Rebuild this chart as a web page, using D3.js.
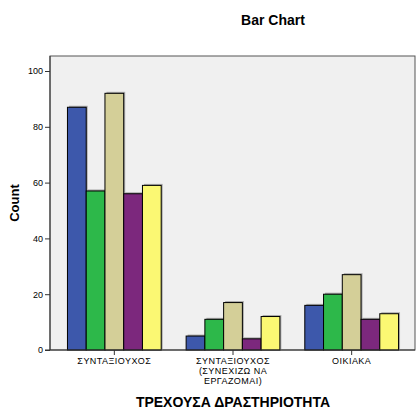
<!DOCTYPE html>
<html><head><meta charset="utf-8">
<script src="https://cdn.jsdelivr.net/npm/d3@7"></script>
<style>body{margin:0;background:#fff;} text{font-family:"Liberation Sans",Arial,sans-serif;}</style>
</head><body><svg id="c" width="416" height="410"></svg>
<script>
const categories = [["ΣΥΝΤΑΞΙΟΥΧΟΣ"], ["ΣΥΝΤΑΞΙΟΥΧΟΣ", "(ΣΥΝΕΧΙΖΩ ΝΑ", "ΕΡΓΑΖΟΜΑΙ)"], ["ΟΙΚΙΑΚΑ"]];
const seriesNames = ["s1", "s2", "s3", "s4", "s5"];
const s1 = [87, 5, 16];
const s2 = [57, 11, 20];
const s3 = [92, 17, 27];
const s4 = [56, 4, 11];
const s5 = [59, 12, 13];
const seriesValues = [s1, s2, s3, s4, s5];
const colors = ["#3d58ab", "#2db84a", "#d4cf98", "#7c287d", "#fbf873"];
const yTicks = [0, 20, 40, 60, 80, 100];

const svg = d3.select("#c");
const L = 50, R = 415, T = 56, B = 350;
const y = d3.scaleLinear().domain([0, 100]).range([B, 71]);
const catKeys = categories.map((c, i) => i);
const x0 = d3.scaleBand().domain(catKeys).range([55, 411]).paddingInner(0.21).paddingOuter(0.105);
const x1 = d3.scaleBand().domain(seriesNames).range([0, x0.bandwidth()]);

svg.append("rect").attr("x", L).attr("y", T).attr("width", R - L).attr("height", B - T).attr("fill", "#f0f0f0").attr("stroke", "#555").attr("stroke-width", 1);

const data = [];
catKeys.forEach(ci => seriesNames.forEach((s, si) => data.push({ci, s, si, v: seriesValues[si][ci]})));

// shadow
svg.append("g").selectAll("rect").data(data).join("rect")
  .attr("x", d => x0(d.ci) + x1(d.s) + 1.5).attr("y", d => y(d.v) - 1.5)
  .attr("width", x1.bandwidth()).attr("height", d => B - y(d.v) + 1.5)
  .attr("fill", "#aaa");
svg.append("g").selectAll("rect").data(data).join("rect")
  .attr("x", d => x0(d.ci) + x1(d.s)).attr("y", d => y(d.v))
  .attr("width", x1.bandwidth()).attr("height", d => B - y(d.v))
  .attr("fill", d => colors[d.si]).attr("stroke", "#000").attr("stroke-width", 1);

// y axis
const ya = svg.append("g").attr("transform", `translate(${L},0)`)
  .call(d3.axisLeft(y).tickValues(yTicks).tickSize(5).tickPadding(2));
ya.select(".domain").attr("d", `M0,${T}V${B}`).attr("stroke", "#333");
ya.selectAll("text").attr("font-size", 9).attr("fill", "#000").style("font-family", '"Liberation Sans",Arial,sans-serif');
ya.selectAll(".tick line").attr("stroke", "#333");

// x axis
const xa = svg.append("g").attr("transform", `translate(0,${B})`)
  .call(d3.axisBottom(x0).tickSize(5).tickFormat(""));
xa.select(".domain").attr("d", `M${L - 5},0H${R}`).attr("stroke", "#333");
xa.selectAll(".tick line").attr("stroke", "#333");
xa.selectAll(".tick").each(function(d) {
  const t = d3.select(this).append("text").attr("fill", "#000").attr("font-size", 9).attr("letter-spacing", 0.45).attr("text-anchor", "middle");
  categories[d].forEach((line, i) => t.append("tspan").attr("x", 0).attr("y", 14 + i * 10).text(line));
});

svg.append("text").attr("x", 273).attr("y", 25).attr("text-anchor", "middle").attr("font-size", 14).attr("font-weight", "bold").text("Bar Chart");
svg.append("text").attr("transform", `translate(19,${(T + B) / 2}) rotate(-90)`).attr("text-anchor", "middle").attr("font-size", 13).attr("font-weight", "bold").text("Count");
svg.append("text").attr("x", 233).attr("y", 407).attr("text-anchor", "middle").attr("font-size", 14).attr("font-weight", "bold").text("ΤΡΕΧΟΥΣΑ ΔΡΑΣΤΗΡΙΟΤΗΤΑ");
</script></body></html>
